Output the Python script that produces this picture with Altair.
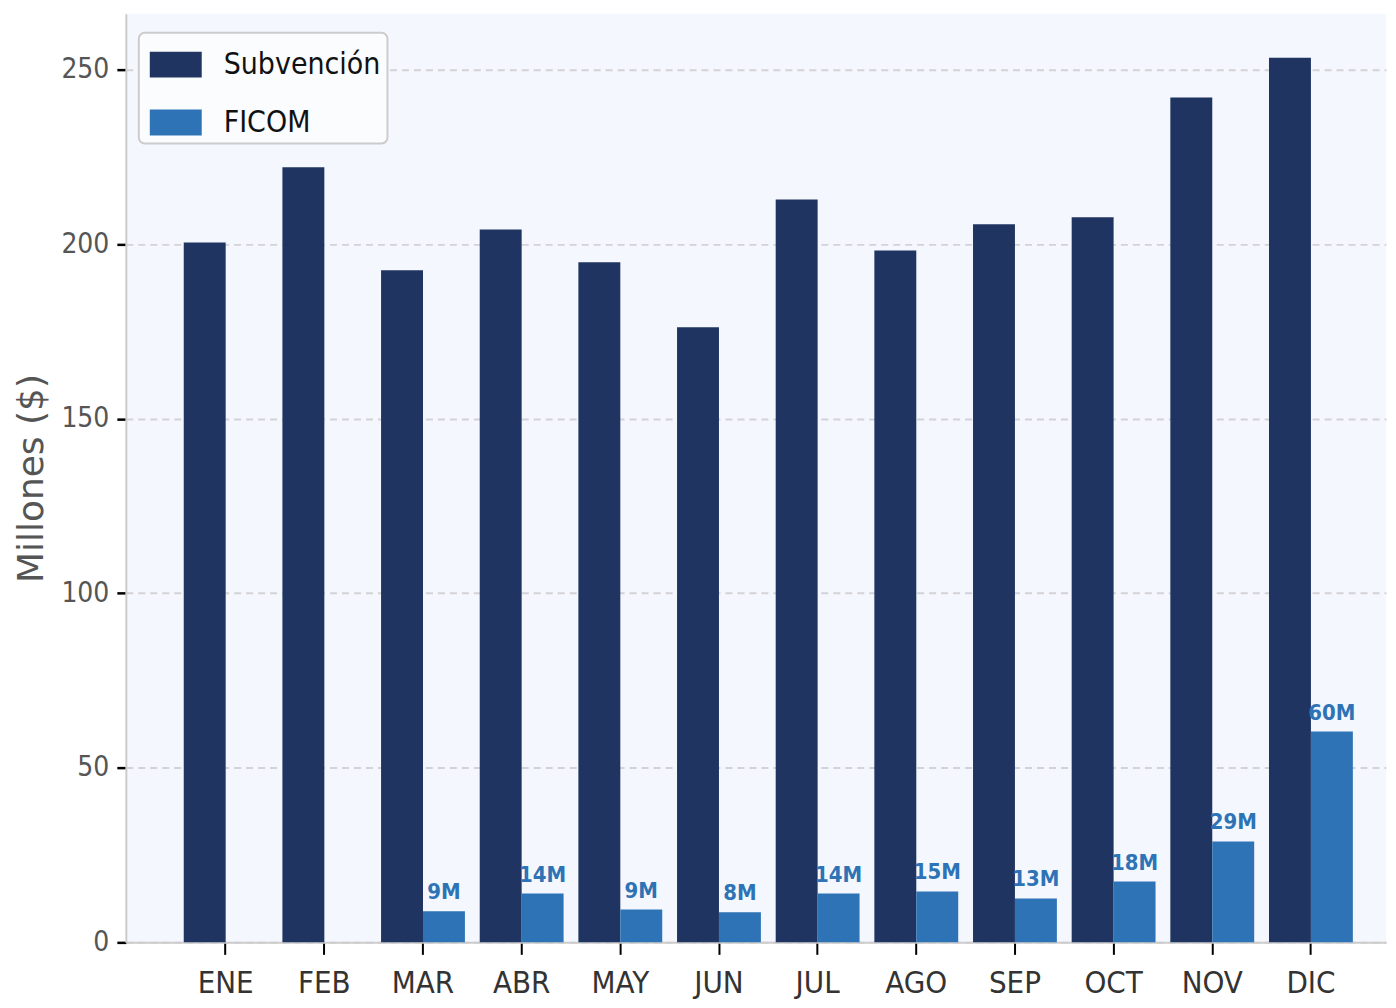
import altair as alt
import pandas as pd

months = ["ENE", "FEB", "MAR", "ABR", "MAY", "JUN", "JUL", "AGO", "SEP", "OCT", "NOV", "DIC"]
subvencion = [200.5, 222.0, 192.5, 204.2, 194.8, 176.2, 212.8, 198.2, 205.7, 207.7, 242.0, 253.4]
ficom = [None, None, 8.9, 14.0, 9.4, 8.6, 14.0, 14.6, 12.6, 17.4, 28.9, 60.4]
ficom_labels = ["", "", "9M", "14M", "9M", "8M", "14M", "15M", "13M", "18M", "29M", "60M"]
series = ["Subvención", "FICOM"]
colors = ["#1F3461", "#2E73B5"]

rows = []
for i, m in enumerate(months):
    rows.append({"mes": m, "serie": series[0], "valor": subvencion[i], "label": ""})
    if ficom[i] is not None:
        rows.append({"mes": m, "serie": series[1], "valor": ficom[i], "label": ficom_labels[i]})
df = pd.DataFrame(rows)

FONT = "DejaVu Sans Condensed, Liberation Sans Narrow, DejaVu Sans"

x = alt.X("mes:N", sort=months, title=None,
          scale=alt.Scale(paddingInner=0.15, paddingOuter=0.4615, align=0.636),
          axis=alt.Axis(labelAngle=0, labelFontSize=31, labelFont=FONT, labelColor="#333333",
                        labelPadding=14, tickColor="#000000", tickSize=12, tickWidth=2,
                        domainColor="#CCCCCC", domainWidth=2, grid=False))
y = alt.Y("valor:Q", title="Millones ($)",
          scale=alt.Scale(domain=[0, 266], nice=False),
          axis=alt.Axis(values=[0, 50, 100, 150, 200, 250], labelFontSize=28, labelFont=FONT,
                        labelColor="#555555", labelPadding=8, tickColor="#000000", tickSize=9,
                        tickWidth=2.5, domainColor="#CCCCCC", domainWidth=2,
                        grid=True, gridColor="#D3D3D6", gridDash=[7, 5], gridWidth=2,
                        titleFontSize=36, titleFont="DejaVu Sans", titleColor="#555555",
                        titleFontWeight="normal", titlePadding=10))

color = alt.Color("serie:N", sort=series,
                  scale=alt.Scale(domain=series, range=colors),
                  legend=alt.Legend(title=None, orient="none", legendX=13, legendY=19,
                                    symbolType="M-1,-0.5H1V0.5H-1Z", symbolSize=2704,
                                    symbolStrokeWidth=0, symbolOpacity=1, symbolOffset=5,
                                    labelFontSize=30, labelFont=FONT, labelColor="#111111",
                                    labelOffset=22, rowPadding=17, padding=6,
                                    fillColor="#FBFCFE", strokeColor="#CCCCCC"))

xoff = alt.XOffset("serie:N", sort=series,
                   scale=alt.Scale(domain=series, paddingInner=0, paddingOuter=0))

bars = alt.Chart(df).mark_bar().encode(
    x=x,
    xOffset=xoff,
    y=y,
    color=color,
)

labels = alt.Chart(df).transform_filter("datum.label != ''").mark_text(
    baseline="alphabetic", dy=-12, fontSize=22, fontWeight="bold", font=FONT, color="#2E73B5"
).encode(
    x=alt.X("mes:N", sort=months),
    xOffset=xoff,
    y=alt.Y("valor:Q"),
    text="label:N",
)

chart = alt.layer(bars, labels).properties(
    width=1262, height=930,
    background="#FFFFFF",
    autosize=alt.AutoSizeParams(type="none"),
    padding={"left": 118, "top": 5, "right": 2, "bottom": 57},
).configure_view(fill="#F4F7FE", stroke=None).configure_legend(
    cornerRadius=6, strokeWidth=2
)

chart.save("out.html", embed_options={"renderer": "svg", "actions": False})
